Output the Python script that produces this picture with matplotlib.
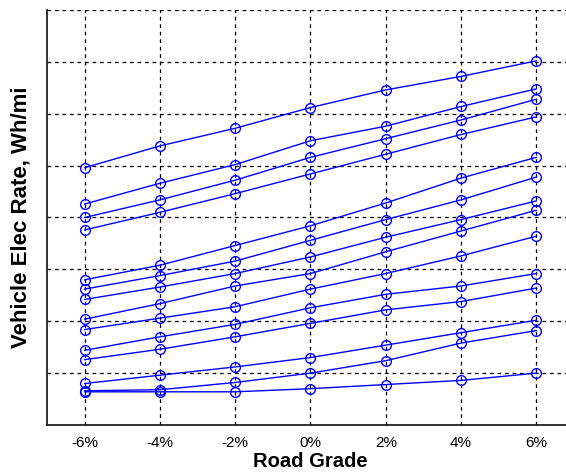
import matplotlib
matplotlib.use("Agg")
import matplotlib.pyplot as plt

# road grade in percent
grades = [-6, -4, -2, 0, 2, 4, 6]
grade_labels = ["-6%", "-4%", "-2%", "0%", "2%", "4%", "6%"]

# vehicle electric rate, Wh/mi
s1 = [398, 419, 436, 456, 473, 486, 501]
s2 = [363, 383, 401, 424, 438, 457, 474]
s3 = [350, 367, 386, 408, 426, 444, 464]
s4 = [338, 355, 373, 392, 411, 430, 447]
s5 = [290, 304, 323, 342, 364, 388, 408]
s6 = [281, 294, 308, 328, 348, 367, 389]
s7 = [271, 283, 296, 312, 331, 348, 366]
s8 = [252, 267, 284, 296, 317, 337, 357]
s9 = [242, 253, 264, 281, 296, 313, 332]
s10 = [222, 235, 247, 263, 276, 284, 296]
s11 = [213, 223, 235, 248, 261, 269, 282]
s12 = [190, 198, 206, 215, 227, 239, 251]
s13 = [183, 184, 191, 200, 212, 229, 241]
s14 = [182, 182, 182, 185, 189, 193, 200]

series = [s1, s2, s3, s4, s5, s6, s7, s8, s9, s10, s11, s12, s13, s14]

fig = plt.figure(figsize=(5.66, 4.73), dpi=100)
# axes runs past the right edge of the picture, like the original crop
ax = fig.add_axes([47 / 566, 48 / 473, 527 / 566, 415 / 473])

for s in series:
    ax.plot(grades, s, color="#0000ff", linewidth=1.0, marker="o",
            markersize=7, markerfacecolor="none", markeredgecolor="#0000ff",
            markeredgewidth=1.0, zorder=3)

ax.set_xlim(-7, 7)
ax.set_ylim(150, 550)
ax.set_xticks(grades)
ax.set_xticklabels(grade_labels, fontname="Liberation Sans", fontsize=11)
ax.set_yticks(range(150, 551, 50))
ax.set_yticklabels([])
ax.tick_params(length=0, pad=8)

ax.grid(True, color="black", linestyle=(0, (3, 3)), linewidth=0.9)
ax.spines["top"].set_visible(False)
ax.spines["right"].set_visible(False)
ax.spines["left"].set_linewidth(1.3)
ax.spines["bottom"].set_linewidth(1.3)
ax.spines["left"].set_color("#222222")
ax.spines["bottom"].set_color("#222222")

ax.set_xlabel("Road Grade", fontname="Liberation Sans", fontsize=14.5,
              fontweight="bold")
ax.xaxis.set_label_coords(263 / 527, -27 / 415)
ax.set_ylabel("Vehicle Elec Rate, Wh/mi", fontname="Liberation Sans",
              fontsize=16, fontweight="bold")
ax.yaxis.set_label_coords(-15 / 527, 0.5)

fig.savefig("out.png", dpi=100)
